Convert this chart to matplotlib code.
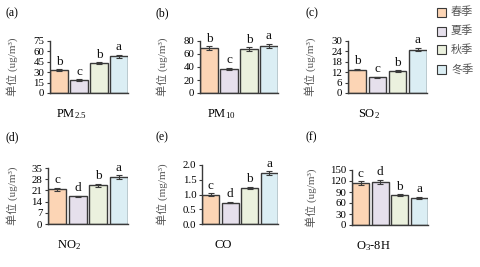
import matplotlib
matplotlib.use("Agg")
import matplotlib.pyplot as plt
import numpy as np

#%%DATA
seasons = ["春季", "夏季", "秋季", "冬季"]
colors = ["#FCD5B5", "#E6E0EC", "#EBF1DE", "#DBEEF4"]

pm25 = [33, 18.5, 43, 53]
pm25_err = [1.5, 1.0, 1.5, 2.0]
pm25_sig = ["b", "c", "b", "a"]

pm10 = [69, 37, 67, 72]
pm10_err = [3.0, 1.5, 3.0, 3.5]
pm10_sig = ["b", "c", "b", "a"]

so2 = [13.5, 9.0, 12.7, 25.0]
so2_err = [0.5, 0.4, 0.5, 1.0]
so2_sig = ["b", "c", "b", "a"]

no2 = [21.7, 17.2, 24.3, 29.2]
no2_err = [0.9, 0.6, 1.0, 1.2]
no2_sig = ["c", "d", "b", "a"]

co = [1.0, 0.72, 1.22, 1.72]
co_err = [0.04, 0.02, 0.04, 0.06]
co_sig = ["c", "d", "b", "a"]

o3 = [114, 117, 81, 73]
o3_err = [5, 6, 3, 3]
o3_sig = ["c", "d", "b", "a"]

#%%STYLE
plt.rcParams["mathtext.fontset"] = "custom"
plt.rcParams["mathtext.rm"] = "Liberation Serif"
plt.rcParams["mathtext.it"] = "Liberation Serif:italic"
serif = ["Liberation Serif", "Noto Sans CJK SC"]
plt.rcParams["font.family"] = serif
edge = "#3a3a3a"
W, H = 480, 267

def rect(x0, y0, x1, y1):
    #pixel box -> figure fraction
    return [x0 / W, 1 - y1 / H, (x1 - x0) / W, (y1 - y0) / H]

def panel(fig, box, vals, errs, sig, ticks, fmt, tag, name, unit, tagxy, ylx):
    ax = fig.add_axes(rect(*box))
    x = np.arange(len(vals))
    ax.bar(x, vals, width=0.86, color=colors, edgecolor=edge, linewidth=1.0,
           yerr=errs, error_kw=dict(ecolor=edge, elinewidth=0.8, capsize=2, capthick=0.8))
    top = ticks[-1]
    for xi, v, e, s in zip(x, vals, errs, sig):
        ax.text(xi, v + e + top * 0.03, s, ha="center", va="bottom", fontsize=9.5, color="#111111")
    ax.set_xlim(-0.45, 3.45)
    ax.set_ylim(0, top)
    ax.set_yticks(ticks)
    ax.set_yticklabels([fmt.format(t) for t in ticks], fontsize=7.8)
    ax.set_xticks([])
    for sp in ["top", "right"]:
        ax.spines[sp].set_visible(False)
    for sp in ["left", "bottom"]:
        ax.spines[sp].set_color(edge)
        ax.spines[sp].set_linewidth(1.0)
    ax.tick_params(axis="y", length=2.5, width=0.8, color=edge, pad=1.5)
    x0, y0, x1, y1 = box
    fig.text(tagxy[0] / W, 1 - tagxy[1] / H, tag, fontsize=8.5, ha="left", va="center")
    fig.text((x0 + 21) / W, 1 - (y1 + 21) / H, name, fontsize=9, ha="center", va="center")
    fig.text(ylx / W, 1 - (y0 + y1) / 2 / H, "单位 (" + unit + ")", rotation=90,
             fontsize=8, ha="center", va="center", color="#555555", family=serif)
    return ax

fig = plt.figure(figsize=(4.8, 2.67), dpi=100)

panel(fig, (50, 41, 128, 93), pm25, pm25_err, pm25_sig, [0, 15, 30, 45, 60, 75], "{:g}",
      "(a)", r"PM$_{\mathrm{2.5}}$", "ug/m³", (6, 13), 12)
panel(fig, (200, 41, 278, 93), pm10, pm10_err, pm10_sig, [0, 20, 40, 60, 80], "{:g}",
      "(b)", r"PM$_{\mathrm{10}}$", "ug/m³", (156, 13), 162)
panel(fig, (348, 41, 427, 93), so2, so2_err, so2_sig, [0, 6, 12, 18, 24, 30], "{:g}",
      "(c)", r"SO$_{\mathrm{2}}$", "ug/m³", (305, 13), 310)
panel(fig, (48, 168, 128, 224), no2, no2_err, no2_sig, [0, 7, 14, 21, 28, 35], "{:g}",
      "(d)", r"NO$_{\mathrm{2}}$", "ug/m³", (6, 137), 12)
panel(fig, (202, 165, 278, 224), co, co_err, co_sig, [0, 0.5, 1.0, 1.5, 2.0], "{:.1f}",
      "(e)", "CO", "mg/m³", (156, 137), 162)
panel(fig, (352, 170, 428, 225), o3, o3_err, o3_sig, [0, 30, 60, 90, 120, 150], "{:g}",
      "(f)", r"O$_{\mathrm{3}}$-8H", "ug/m³", (305, 137), 311)

#legend drawn by hand at the top right
for i, (s, c) in enumerate(zip(seasons, colors)):
    yc = 12 + i * 19
    fig.patches.append(plt.Rectangle((437 / W, 1 - (yc + 4.5) / H), 9 / W, 9 / H,
                                     facecolor=c, edgecolor=edge, linewidth=0.8,
                                     transform=fig.transFigure, figure=fig))
    fig.text(451 / W, 1 - yc / H, s, fontsize=8, ha="left", va="center",
             color="#555555", family=["Noto Sans CJK SC"])

fig.savefig("out.png", dpi=100)
